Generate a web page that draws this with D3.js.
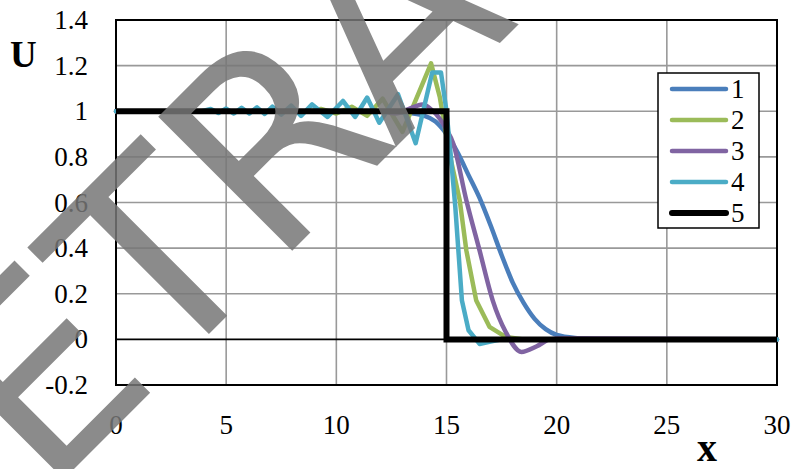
<!DOCTYPE html>
<html lang="en">

<head>
    <meta charset="UTF-8">
    <title>U(x) profiles</title>
    <script src="https://d3js.org/d3.v7.min.js"></script>
    <style>
        body {
            margin: 0;
            background: #fff;
        }

        svg {
            display: block;
            background-color: #fff;
        }
    </style>
</head>

<body>
    <svg width="795" height="469"></svg>

    <script>
        // tick values
        const xTicks = [0, 5, 10, 15, 20, 25, 30];
        const yTicks = [-0.2, 0, 0.2, 0.4, 0.6, 0.8, 1, 1.2, 1.4];

        // series
        const s1x = [0, 12, 13, 14, 14.5, 15, 15.5, 16, 16.5, 17, 17.5, 18, 18.5, 19, 19.5, 20, 21, 22, 30];
        const s1y = [1, 1, 0.995, 0.98, 0.955, 0.9, 0.82, 0.72, 0.62, 0.5, 0.37, 0.25, 0.16, 0.09, 0.045, 0.02, 0.005, 0, 0];

        const s2x = [0, 8.8, 9.3, 10.0, 10.7, 11.4, 12.1, 13.0, 14.3, 14.7, 15.1, 15.6, 15.9, 16.35, 16.95, 17.7, 18.5, 30];
        const s2y = [1, 1, 1.01, 0.99, 1.02, 0.98, 1.055, 0.91, 1.21, 1.06, 0.83, 0.61, 0.39, 0.17, 0.055, 0.01, 0, 0];

        const s3x = [0, 12, 12.7, 13.3, 13.9, 14.4, 15, 15.3, 15.9, 16.5, 17.1, 17.7, 18.4, 19.1, 19.7, 20.3, 30];
        const s3y = [1, 1, 0.99, 1.01, 1.03, 1.0, 0.92, 0.86, 0.61, 0.39, 0.17, 0.03, -0.055, -0.03, 0.0, 0.005, 0];

        const s4x = [0, 3.9, 4.3, 4.65, 5.0, 5.35, 5.7, 6.05, 6.4, 6.75, 7.1, 7.5, 7.95, 8.4, 8.9, 9.6, 10.3, 10.85, 11.4, 11.95, 12.8, 13.6, 14.35, 14.75, 15.0, 15.2, 15.4, 15.7, 16.0, 16.5, 17.0, 17.5, 30];
        const s4y = [1, 1, 1.01, 0.992, 1.012, 0.99, 1.015, 0.99, 1.017, 0.988, 1.02, 0.985, 1.025, 0.98, 1.03, 0.975, 1.045, 0.975, 1.06, 0.95, 1.075, 0.86, 1.17, 1.17, 1.0, 0.8, 0.58, 0.17, 0.04, -0.02, -0.01, 0, 0];

        const s5x = [0, 15, 15, 30];
        const s5y = [1, 1, 0, 0];

        const names = ["1", "2", "3", "4", "5"];
        const colors = ["#4a7ebb", "#9bbb59", "#8064a2", "#4bacc6", "#000000"];

        const plot = { left: 116, right: 777, top: 20, bottom: 385 };
        const serif = "Liberation Serif";

        const svg = d3.select("svg");

        const x = d3.scaleLinear().domain([0, 30]).range([plot.left, plot.right]);
        const y = d3.scaleLinear().domain([-0.2, 1.4]).range([plot.bottom, plot.top]);

        // grid
        svg.append("g")
            .selectAll("line")
            .data(xTicks.slice(1, -1))
            .join("line")
            .attr("x1", d => x(d)).attr("x2", d => x(d))
            .attr("y1", plot.top).attr("y2", plot.bottom)
            .attr("stroke", "#999").attr("stroke-width", 1.6);

        svg.append("g")
            .selectAll("line")
            .data(yTicks.filter(d => d !== 0 && d !== -0.2 && d !== 1.4))
            .join("line")
            .attr("x1", plot.left).attr("x2", plot.right)
            .attr("y1", d => y(d)).attr("y2", d => y(d))
            .attr("stroke", "#999").attr("stroke-width", 1.6);

        // zero line and frame
        svg.append("line")
            .attr("x1", plot.left).attr("x2", plot.right)
            .attr("y1", y(0)).attr("y2", y(0))
            .attr("stroke", "#000").attr("stroke-width", 1.6);

        svg.append("rect")
            .attr("x", plot.left).attr("y", plot.top)
            .attr("width", plot.right - plot.left).attr("height", plot.bottom - plot.top)
            .attr("fill", "none").attr("stroke", "#000").attr("stroke-width", 2);

        // tick labels
        svg.append("g")
            .selectAll("text")
            .data(yTicks)
            .join("text")
            .attr("x", 88)
            .attr("y", d => y(d) + 9)
            .attr("text-anchor", "end")
            .style("font-family", serif)
            .style("font-size", "27px")
            .text(d => +d.toFixed(1));

        svg.append("g")
            .selectAll("text")
            .data(xTicks)
            .join("text")
            .attr("x", d => x(d))
            .attr("y", 434)
            .attr("text-anchor", "middle")
            .style("font-family", serif)
            .style("font-size", "27px")
            .text(d => d);

        // axis titles
        svg.append("text")
            .attr("x", 10).attr("y", 67)
            .style("font-family", serif)
            .style("font-size", "37px").style("font-weight", "bold")
            .text("U");

        svg.append("text")
            .attr("x", 697).attr("y", 461)
            .style("font-family", serif)
            .style("font-size", "40px").style("font-weight", "bold")
            .text("x");

        // series
        const series = [
            { xs: s1x, ys: s1y, curve: d3.curveMonotoneX },
            { xs: s2x, ys: s2y, curve: d3.curveLinear },
            { xs: s3x, ys: s3y, curve: d3.curveMonotoneX },
            { xs: s4x, ys: s4y, curve: d3.curveLinear },
            { xs: s5x, ys: s5y, curve: d3.curveLinear }
        ];

        series.forEach((s, i) => {
            const pts = s.xs.map((v, j) => [v, s.ys[j]]);
            const line = d3.line()
                .x(d => x(d[0]))
                .y(d => y(d[1]))
                .curve(s.curve);
            svg.append("path")
                .datum(pts)
                .attr("d", line)
                .attr("fill", "none")
                .attr("stroke", colors[i])
                .attr("stroke-width", i === 4 ? 6 : 4.5)
                .attr("stroke-linejoin", i === 4 ? "miter" : "round")
                .attr("stroke-linecap", i === 4 ? "butt" : "round");
        });

        // legend
        const legend = svg.append("g");
        legend.append("rect")
            .attr("x", 658).attr("y", 73)
            .attr("width", 101).attr("height", 155)
            .attr("fill", "#fff").attr("stroke", "#000").attr("stroke-width", 1.5);

        const ly = d3.scalePoint().domain(names).range([89, 213]);

        legend.selectAll("line")
            .data(names)
            .join("line")
            .attr("x1", 672).attr("x2", 726)
            .attr("y1", d => ly(d)).attr("y2", d => ly(d))
            .attr("stroke", (d, i) => colors[i])
            .attr("stroke-width", (d, i) => i === 4 ? 6 : 4.5)
            .attr("stroke-linecap", "round");

        legend.selectAll("text")
            .data(names)
            .join("text")
            .attr("x", 731)
            .attr("y", d => ly(d) + 9)
            .style("font-family", serif)
            .style("font-size", "27px")
            .text(d => d);

        // watermark over the figure
        svg.append("text")
            .attr("transform", "translate(-82,625) rotate(-45)")
            .style("font-family", "DejaVu Sans")
            .style("font-size", "260px")
            .attr("fill", "#777")
            .attr("opacity", 0.85)
            .text("RETRACTED");
    </script>
</body>

</html>
